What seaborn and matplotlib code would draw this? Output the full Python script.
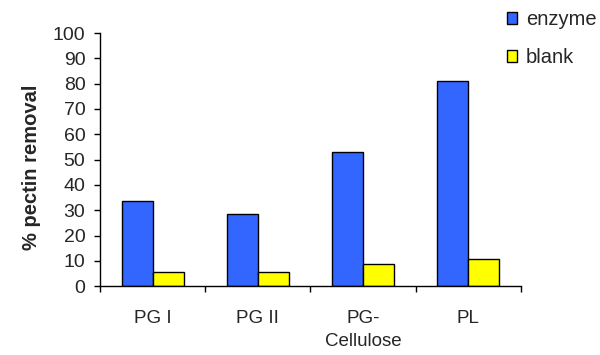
import matplotlib
matplotlib.use("Agg")
import matplotlib.pyplot as plt
import seaborn as sns
import pandas as pd
from matplotlib.patches import Patch

categories = ["PG I", "PG II", "PG-\nCellulose", "PL"]
enzyme = [33.7, 28.5, 52.8, 81.1]
blank = [5.4, 5.4, 8.6, 10.9]
series_names = ["enzyme", "blank"]
colors = {"enzyme": "#3366FF", "blank": "#FFFF00"}

df = pd.DataFrame({
    "category": categories * 2,
    "value": enzyme + blank,
    "series": ["enzyme"] * len(categories) + ["blank"] * len(categories),
})

sns.set_style("white")
plt.rcParams["font.family"] = ["Liberation Sans", "DejaVu Sans"]

fig = plt.figure(figsize=(6.0, 3.55), dpi=100)
ax = fig.add_axes([0.1667, 0.194, 0.7013, 0.713])

sns.barplot(data=df, x="category", y="value", hue="series", order=categories,
            hue_order=series_names, palette=colors, width=0.59, gap=0,
            edgecolor="black", linewidth=1.0, saturation=1, legend=False, ax=ax)

ax.set_xlim(-0.5, len(categories) - 0.5)
ax.set_ylim(0, 100)
ax.set_yticks(range(0, 101, 10))
ax.tick_params(axis="y", direction="out", length=4.5, width=1, color="black",
               labelsize=14, pad=6, left=True)
ax.tick_params(axis="x", which="major", length=0, labelsize=13.5, pad=17)
for lbl in ax.get_xticklabels():
    lbl.set_linespacing(1.45)
ax.set_xticks([i - 0.5 for i in range(len(categories) + 1)], minor=True)
ax.tick_params(axis="x", which="minor", direction="out", length=4.5, width=1,
               color="black", bottom=True)
for side in ["top", "right"]:
    ax.spines[side].set_visible(False)
for side in ["left", "bottom"]:
    ax.spines[side].set_color("black")
    ax.spines[side].set_linewidth(1)
ax.set_xlabel("")
ax.set_ylabel("% pectin removal", fontsize=14.5, fontweight="bold")
ax.yaxis.set_label_coords(-0.14, 0.47)

handles = [Patch(facecolor=colors[s], edgecolor="black", linewidth=1.0, label=s)
           for s in series_names]
fig.legend(handles=handles, loc="upper left", bbox_to_anchor=(0.845, 0.972),
           frameon=False, fontsize=14.5, handlelength=0.5, handleheight=0.5,
           handletextpad=0.45, labelspacing=0.95, borderpad=0, borderaxespad=0)

fig.savefig("out.png", dpi=100)
